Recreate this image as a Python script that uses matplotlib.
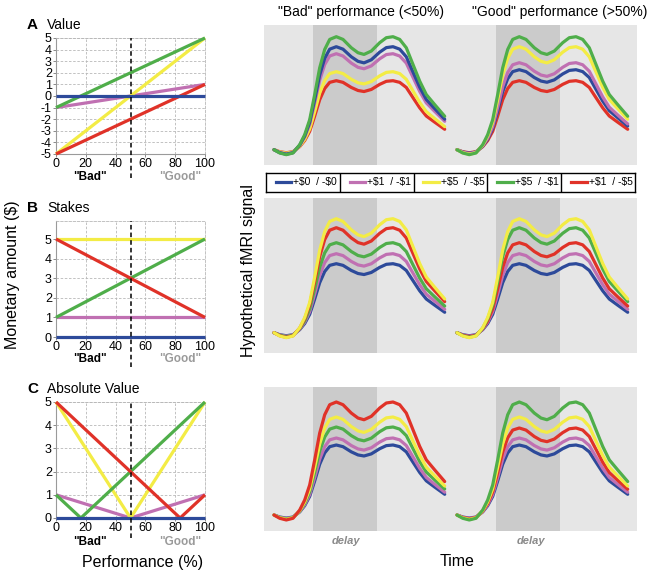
import matplotlib
matplotlib.use("Agg")
import matplotlib.pyplot as plt
from matplotlib.lines import Line2D

plt.rcParams['font.family'] = ['Liberation Sans', 'DejaVu Sans']
plt.rcParams['axes.unicode_minus'] = False

# ---------------- data ----------------
series_names = ["+$0 / -$0", "+$1 / -$1", "+$5 / -$5", "+$5 / -$1", "+$1 / -$5"]
legend_labels = [r"+\$0  / -\$0", r"+\$1  / -\$1", r"+\$5  / -\$5", r"+\$5  / -\$1", r"+\$1  / -\$5"]
colors = ["#2d4a9a", "#c070b2", "#f3ec45", "#4fae4a", "#e03228"]

# left panels: (performance %, monetary amount) vertices per series
value_x = [[0, 100], [0, 100], [0, 100], [0, 100], [0, 100]]
value_y = [[0, 0], [-1, 1], [-5, 5], [-1, 5], [-5, 1]]
stakes_x = [[0, 100], [0, 100], [0, 100], [0, 100], [0, 100]]
stakes_y = [[0, 0], [1, 1], [5, 5], [1, 5], [5, 1]]
absval_x = [[0, 100], [0, 50, 100], [0, 50, 100], [0, 16.7, 100], [0, 83.3, 100]]
absval_y = [[0, 0], [1, 0, 1], [5, 0, 5], [1, 0, 5], [5, 0, 1]]

# right panels: hypothetical fMRI response shape
resp_t = [0, 0.57, 1.23, 1.9, 2.57, 3.07, 3.57, 4.07, 4.57, 5.07, 5.57, 6.23, 6.9,
          7.73, 8.4, 9.0, 9.73, 10.57, 11.23, 11.9, 12.57, 13.23, 13.9, 14.57,
          15.23, 16.07, 17.07]
resp_shape = [0, -0.029, -0.044, -0.029, 0.044, 0.133, 0.266, 0.488, 0.725, 0.887,
              0.976, 1.0, 0.976, 0.902, 0.858, 0.843, 0.873, 0.947, 0.991, 1.0,
              0.976, 0.902, 0.754, 0.607, 0.488, 0.399, 0.296]
trial_onsets = [0.0, 18.3]
delay_period = [3.9, 10.3]

# response amplitudes: [row][condition(bad, good)][series]
amp_value = [[103, 96, 78, 113, 69], [80, 87, 103, 113, 69]]
amp_stakes = [[69, 79, 114, 90, 105], [69, 79, 114, 105, 90]]
amp_absval = [[70, 77, 98, 88, 113], [70, 77, 98, 113, 87]]

# ---------------- figure ----------------
W, H = 656, 575
fig = plt.figure(figsize=(W / 100, H / 100), dpi=100)
TICKFONT = ['Liberation Sans Narrow', 'Liberation Sans', 'DejaVu Sans']


def fx(px):
    return px / W


def fy(py):
    return 1 - py / H


def left_panel(rect_px, xs, ys, ylim, yticks, letter, title, label_y, dash_bottom_px):
    l, t, r, b = rect_px
    ax = fig.add_axes([fx(l), fy(b), (r - l) / W, (b - t) / H])
    ax.set_xlim(0, 100)
    ax.set_ylim(*ylim)
    ax.set_xticks([0, 20, 40, 60, 80, 100])
    ax.set_yticks(yticks)
    ax.grid(True, linestyle=(0, (3, 2)), color="#b8b8b8", linewidth=0.6)
    ax.set_axisbelow(True)
    for s in ["top", "right"]:
        ax.spines[s].set_linestyle((0, (3, 2)))
        ax.spines[s].set_color("#b8b8b8")
        ax.spines[s].set_linewidth(0.6)
    for s in ["left", "bottom"]:
        ax.spines[s].set_color("#9a9a9a")
        ax.spines[s].set_linewidth(0.8)
    ax.tick_params(labelsize=9, length=2.5, width=0.6, color="#777777", pad=0.5)
    for lab in ax.get_xticklabels() + ax.get_yticklabels():
        lab.set_family(TICKFONT)
    order = [1, 2, 3, 4, 0]
    for i in order:
        ax.plot(xs[i], ys[i], color=colors[i], lw=2.3, clip_on=False,
                solid_capstyle="butt", zorder=3)
    frac = -(dash_bottom_px - b) / (b - t)
    ax.axvline(50, ymin=frac, ymax=1, color="black", lw=1.1,
               linestyle=(0, (3, 2)), clip_on=False, zorder=4)
    fig.text(fx(27), fy(t - 13), letter, fontsize=11, fontweight="bold",
             va="center", ha="left")
    fig.text(fx(47), fy(t - 13), title, fontsize=10, va="center", ha="left")
    fig.text(fx(90), fy(label_y), '"Bad"', fontsize=8.5, fontweight="bold",
             ha="center", va="center", color="black")
    fig.text(fx(180), fy(label_y), '"Good"', fontsize=8.5, fontweight="bold",
             ha="center", va="center", color="#9a9a9a")
    return ax


left_panel((56, 38, 205, 154), value_x, value_y, (-5, 5), list(range(-5, 6)),
           "A", "Value", 177, 178)
left_panel((56, 221, 205, 337), stakes_x, stakes_y, (0, 5.92), list(range(0, 6)),
           "B", "Stakes", 359, 367)
left_panel((56, 402, 205, 518), absval_x, absval_y, (0, 5), list(range(0, 6)),
           "C", "Absolute Value", 542, 538)

fig.text(fx(13), fy(275), r"Monetary amount (\$)", rotation=90, fontsize=11.5,
         ha="center", va="center")
fig.text(fx(143), fy(562), "Performance (%)", fontsize=11.5, ha="center", va="center")


def right_panel(rect_px, amps, baseline_px):
    l, t, r, b = rect_px
    ax = fig.add_axes([fx(l), fy(b), (r - l) / W, (b - t) / H])
    ax.set_facecolor("#e6e6e6")
    for s in ax.spines.values():
        s.set_visible(False)
    ax.set_xticks([])
    ax.set_yticks([])
    ax.set_xlim(-1.0, 36.3)
    ax.set_ylim(-(b - baseline_px), baseline_px - t)
    for k, onset in enumerate(trial_onsets):
        ax.axvspan(onset + delay_period[0], onset + delay_period[1],
                   color="#cbcbcb", lw=0, zorder=0)
        order = sorted(range(5), key=lambda i: amps[k][i])
        for i in order:
            ax.plot([onset + tt for tt in resp_t],
                    [amps[k][i] * s for s in resp_shape],
                    color=colors[i], lw=2.3, solid_joinstyle="round",
                    solid_capstyle="round", zorder=2)
    return ax


right_panel((264, 25, 637, 165), amp_value, 149.7)
right_panel((264, 198, 637, 353), amp_stakes, 332.7)
right_panel((264, 387, 637, 531), amp_absval, 515)

fig.text(fx(361), fy(12), '"Bad" performance (<50%)', fontsize=10, ha="center", va="center")
fig.text(fx(560), fy(12), '"Good" performance (>50%)', fontsize=10, ha="center", va="center")
fig.text(fx(249), fy(271), "Hypothetical fMRI signal", rotation=90, fontsize=11.5,
         ha="center", va="center")
fig.text(fx(457), fy(562), "Time", fontsize=11.5, ha="center", va="center")
for xc in [346, 531]:
    fig.text(fx(xc), fy(541), "delay", fontsize=8, style="italic", fontweight="bold",
             color="#8a8a8a", ha="center", va="center")

# legend strip
lax = fig.add_axes([fx(266), fy(192), (635 - 266) / W, 19 / H])
lax.set_xlim(0, 5)
lax.set_ylim(0, 1)
lax.set_xticks([])
lax.set_yticks([])
for s in lax.spines.values():
    s.set_color("black")
    s.set_linewidth(1.0)
for k in range(1, 5):
    lax.axvline(k, color="black", lw=1.0)
for i in range(5):
    h = Line2D([], [], color=colors[i], lw=2.3)
    leg = lax.legend([h], [legend_labels[i]], loc="center left",
                     bbox_to_anchor=(i / 5 + 0.018, 0.5), frameon=False, fontsize=7.5,
                     handlelength=1.5, handletextpad=0.2, borderaxespad=0,
                     borderpad=0.3)
    if i < 4:
        lax.add_artist(leg)

fig.savefig("out.png", dpi=100)
